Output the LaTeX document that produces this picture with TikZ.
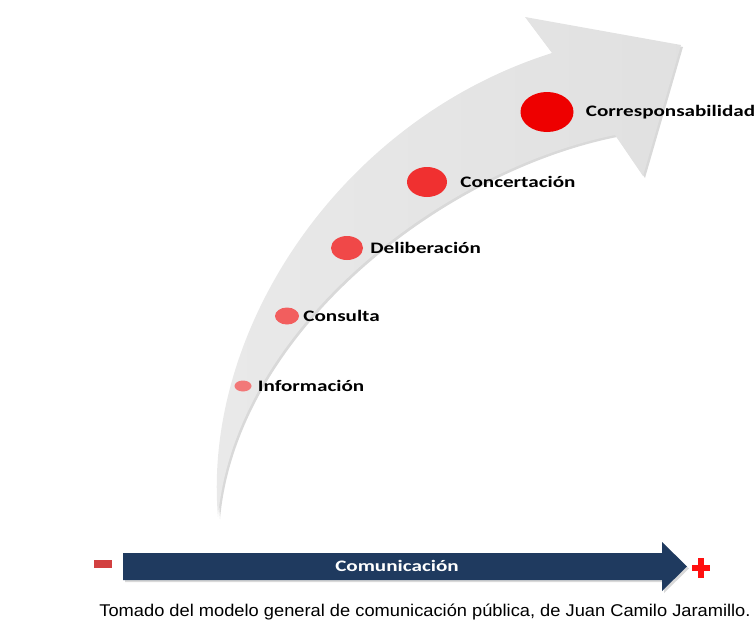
\documentclass[tikz,border=0pt]{standalone}
\usepackage{fontspec}
\setmainfont{Liberation Sans}
\newfontfamily\stagefont{Carlito}
\usetikzlibrary{positioning,shapes.geometric,shadows}

\definecolor{barnavy}{HTML}{1F3A5F}
\definecolor{dotone}{HTML}{F27878}
\definecolor{dottwo}{HTML}{F25E5E}
\definecolor{dotthree}{HTML}{F04848}
\definecolor{dotfour}{HTML}{F03030}
\definecolor{dotfive}{HTML}{EE0000}
\definecolor{minusred}{HTML}{D24040}
\definecolor{plusred}{HTML}{FF1010}

\newcommand{\widetext}[1]{\scalebox{1.32}[1]{#1}}

\tikzset{
  stagedot/.style={ellipse, inner sep=0pt, draw=none, fill=#1},
  stagelabel/.style={font=\stagefont\bfseries\fontsize{16}{18}\selectfont, inner sep=0pt},
  softshadow/.style={drop shadow={shadow xshift=2pt,shadow yshift=-2pt,opacity=0.3}},
}

\begin{document}
\begin{tikzpicture}[x=1pt,y=-1pt]
  \useasboundingbox (0,0) rectangle (756,624);

  % curved arrow
  \coordinate (tail) at (218,517);
  \coordinate (innerup) at (552,53);
  \coordinate (barbup) at (525,17);
  \coordinate (tip) at (681,45);
  \coordinate (barblow) at (643,176);
  \coordinate (innerlow) at (615,135);

  \path[softshadow, left color=gray!17, right color=gray!24]
    (tail) .. controls (202,330) and (340,120) .. (innerup)
    -- (barbup) -- (tip) -- (barblow) -- (innerlow)
    .. controls (440,170) and (235,330) .. (tail) -- cycle;

  % stages
  \node[stagedot=dotone, minimum width=17pt, minimum height=11pt] (info) at (243,386) {};
  \node[stagedot=dottwo, minimum width=24pt, minimum height=17pt] (consul) at (287,316) {};
  \node[stagedot=dotthree, minimum width=32pt, minimum height=24pt] (delib) at (347,248) {};
  \node[stagedot=dotfour, minimum width=40pt, minimum height=30pt] (concert) at (427,182) {};
  \node[stagedot=dotfive, minimum width=53pt, minimum height=40pt] (corresp) at (547,112) {};

  \node[stagelabel, right=6pt of info] (infolbl) {\widetext{Información}};
  \node[stagelabel, right=4pt of consul] (consullbl) {\widetext{Consulta}};
  \node[stagelabel, right=7pt of delib] (deliblbl) {\widetext{Deliberación}};
  \node[stagelabel, right=13pt of concert] (concertlbl) {\widetext{Concertación}};
  \node[stagelabel, right=12pt of corresp] (corresplbl) {\widetext{Corresponsabilidad}};

  % communication axis
  \fill[barnavy, softshadow] (123,553) -- (662,553) -- (662,542) -- (687,566.5)
    -- (662,591) -- (662,580) -- (123,580) -- cycle;
  \node[stagelabel, text=white] (comm) at (397,566) {\widetext{Comunicación}};

  \fill[minusred] (94,560) rectangle (112,568);
  \fill[plusred] (692,565) rectangle (710,571);
  \fill[plusred] (698,558) rectangle (704,578);

  \node[anchor=base, inner sep=0pt] (caption) at (425,616)
    {\fontsize{17}{19}\selectfont\scalebox{1.075}[1]{Tomado del modelo general de comunicación pública, de Juan Camilo Jaramillo.}};
\end{tikzpicture}
\end{document}
